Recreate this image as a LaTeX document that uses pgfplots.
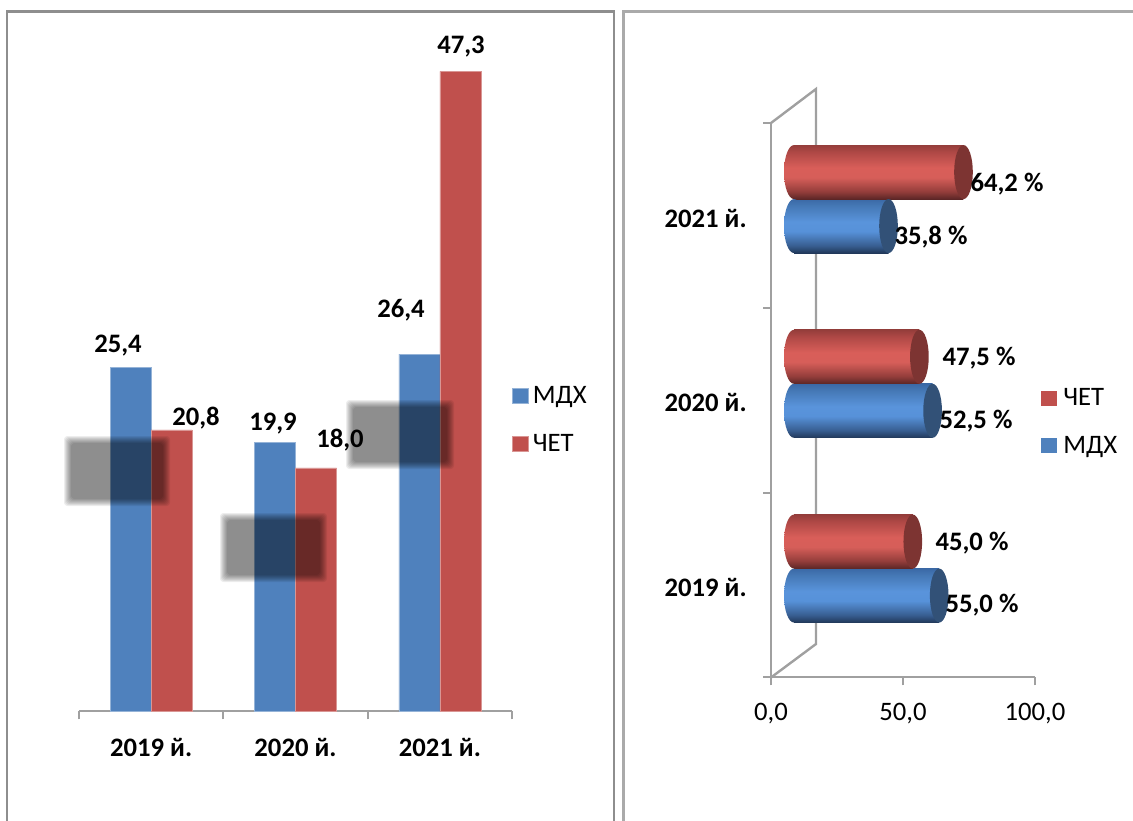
\documentclass[border=0pt]{standalone}
\usepackage{fontspec}
\setmainfont{Carlito}
\usepackage{pgfplots}
\usepackage{pgfplotstable}
\pgfplotsset{compat=1.18}

% 1 px of the reference = 0.75pt here
\definecolor{mdh}{HTML}{4F81BD}
\definecolor{chet}{HTML}{C0504D}
\definecolor{axgray}{HTML}{A0A0A0}
\definecolor{framegray}{HTML}{8E8E8E}

% a path covers the 25bp..75bp part of a shading
\pgfdeclareverticalshading{cylred}{100bp}{
  rgb(0bp)=(0.36,0.15,0.15); rgb(25bp)=(0.36,0.15,0.15); rgb(32bp)=(0.58,0.24,0.23);
  rgb(45bp)=(0.84,0.37,0.35); rgb(54bp)=(0.85,0.37,0.35); rgb(69bp)=(0.68,0.28,0.27);
  rgb(75bp)=(0.58,0.24,0.23); rgb(100bp)=(0.58,0.24,0.23)}
\pgfdeclareverticalshading{cylblue}{100bp}{
  rgb(0bp)=(0.13,0.22,0.35); rgb(25bp)=(0.13,0.22,0.35); rgb(32bp)=(0.22,0.37,0.57);
  rgb(45bp)=(0.34,0.57,0.85); rgb(54bp)=(0.35,0.58,0.86); rgb(69bp)=(0.27,0.47,0.71);
  rgb(75bp)=(0.23,0.41,0.65); rgb(100bp)=(0.23,0.41,0.65)}

% cylinder ends, shifted to the bar's half of the category
\pgfdeclareplotmark{redleft}{\path[shade,shading=cylred,draw=none] (0pt,20.25pt) ellipse (7.5pt and 20.25pt);}
\pgfdeclareplotmark{blueleft}{\path[shade,shading=cylblue,draw=none] (0pt,-20.25pt) ellipse (7.5pt and 20.25pt);}
\pgfdeclareplotmark{redright}{\pgfpathellipse{\pgfqpoint{0pt}{20.25pt}}{\pgfqpoint{7pt}{0pt}}{\pgfqpoint{0pt}{20.25pt}}\pgfusepath{fill}}
\pgfdeclareplotmark{blueright}{\pgfpathellipse{\pgfqpoint{0pt}{-20.25pt}}{\pgfqpoint{7pt}{0pt}}{\pgfqpoint{0pt}{20.25pt}}\pgfusepath{fill}}

\pgfplotstableread{
cat mdh  chet
0   25.4 20.8
1   19.9 18.0
2   26.4 47.3
}\absdata

\pgfplotsset{
  square legend/.style={
    legend image code/.code={\fill[##1] (0pt,-5.6pt) rectangle (11.5pt,5.6pt);\path (#1,0pt);}},
}

\newcommand{\chartfont}{\fontsize{20}{24}\selectfont}

% one cylinder: colour name, bar shift, end colour, value, category
\newcommand{\cylinder}[5]{%
  \addplot[only marks,mark=#1left,forget plot] coordinates {(0,#5)};
  \addplot[xbar,bar width=40.5pt,bar shift=#2pt,draw=none,shade,shading=cyl#1,forget plot]
    coordinates {(#4,#5)};
  \addplot[only marks,mark=#1right,mark options={fill=#3,draw=none},forget plot]
    coordinates {(#4,#5)};
}

\begin{document}
\begin{tikzpicture}
\useasboundingbox (0pt,0pt) rectangle (849.75pt,-615.75pt);

% frames of the two pasted charts
\begin{scope}[x=0.75pt,y=-0.75pt]
\draw[framegray,line width=2pt] (7,821) -- (7,11.5) -- (614,11.5) -- (614,821);
\draw[framegray!75,line width=1.8pt] (623.5,821) -- (623.5,11.5) -- (1133,11.5);
% back wall of the 3D chart
\draw[axgray,line width=1.8pt] (771,123) -- (816,89) -- (816,644) -- (771,677.5);
\end{scope}

% left chart
\begin{axis}[
  at={(59.25pt,-533.5pt)}, anchor=south west,
  scale only axis, width=324.75pt, height=507.375pt,
  xmin=-0.5, xmax=2.5, ymin=0, ymax=50,
  axis x line=bottom, axis y line=none,
  axis line style={-,axgray,line width=1.5pt},
  xtick={-0.5,0.5,1.5,2.5}, xticklabels={},
  tick style={axgray,line width=1.5pt},
  major tick length=6pt, tick align=outside,
  extra x ticks={0,1,2},
  extra x tick labels={2019 й.,2020 й.,2021 й.},
  extra x tick style={major tick length=0pt,
    xticklabel style={font=\chartfont\bfseries,text=black,yshift=-17pt}},
  clip=false,
  legend style={at={(1.0,0.431)},anchor=west,draw=none,fill=none,inner sep=0pt,
    font=\chartfont,row sep=17.5pt},
  legend cell align=left,
]
\addplot[ybar,bar width=30.75pt,bar shift=-15.4pt,fill=mdh,draw=mdh!60!white,line width=0.4pt,square legend=13pt]
  table[x=cat,y=mdh] {\absdata};
\addplot[ybar,bar width=30.75pt,bar shift=15.4pt,fill=chet,draw=chet!60!white,line width=0.4pt,square legend=13pt]
  table[x=cat,y=chet] {\absdata};
\legend{МДХ,ЧЕТ}
\end{axis}

% soft grey patches lying over the left chart
\begin{scope}[x=0.75pt,y=-0.75pt]
\foreach \xa/\ya/\xb/\yb in {66/438/168/504, 222/515/325/580, 348/402/452/467}{
  \foreach \i in {-2,-1,0,1,2,3,4,5}{
    \fill[black,fill opacity=0.069,rounded corners=2.5pt]
      (\xa+\i,\ya+\i) rectangle (\xb-\i,\yb-\i);
  }
}
\end{scope}

% right chart: axes in front
\begin{axis}[
  at={(578.25pt,-508.1pt)}, anchor=south west,
  scale only axis, width=198pt, height=415.9pt,
  xmin=0, xmax=100, ymin=0, ymax=3,
  axis lines=left,
  axis line style={-,axgray,line width=1.5pt},
  tick style={axgray,line width=1.5pt},
  major tick length=6pt, tick align=outside,
  xtick={0,50,100}, xticklabels={{0,0},{50,0},{100,0}},
  xticklabel style={font=\chartfont,text=black,yshift=-9.5pt},
  ytick={0,1,2,3}, yticklabels={},
  extra y ticks={0.5,1.5,2.5},
  extra y tick labels={2019 й.,2020 й.,2021 й.},
  extra y tick style={major tick length=0pt,
    yticklabel style={font=\chartfont\bfseries,text=black,xshift=-14.75pt,yshift=-2pt}},
  clip=false,
]
\end{axis}

% right chart: the cylinders
\begin{axis}[
  at={(595.5pt,-495.7pt)}, anchor=south west,
  scale only axis, width=198pt, height=415.7pt,
  xmin=0, xmax=100, ymin=-0.5, ymax=2.5,
  hide axis, clip=false,
  legend style={at={(0.936,0.431)},anchor=west,draw=none,fill=none,inner sep=0pt,
    font=\chartfont,row sep=17.5pt},
  legend cell align=left,
]
% МДХ
\cylinder{blue}{-20.25}{mdh!63!black}{55.0}{0}
\cylinder{blue}{-20.25}{mdh!63!black}{52.5}{1}
\cylinder{blue}{-20.25}{mdh!63!black}{35.8}{2}
% ЧЕТ
\cylinder{red}{20.25}{chet!65!black}{45.0}{0}
\cylinder{red}{20.25}{chet!65!black}{47.5}{1}
\cylinder{red}{20.25}{chet!65!black}{64.2}{2}
\addlegendimage{square legend=14.5pt,draw=none,fill=chet}
\addlegendimage{square legend=14.5pt,draw=none,fill=mdh}
\legend{ЧЕТ,МДХ}
\end{axis}

% value labels
\begin{scope}[x=0.75pt,y=-0.75pt,every node/.style={font=\chartfont\bfseries,inner sep=0pt}]
\node at (118,346) {25,4};
\node at (196,418) {20,8};
\node at (273,424) {19,9};
\node at (340,440) {18,0};
\node at (401,310) {26,4};
\node at (461,47) {47,3};
\node at (1007,184) {64,2 \%};
\node at (931,237) {35,8 \%};
\node at (979,358) {47,5 \%};
\node at (976,421) {52,5 \%};
\node at (972,543) {45,0 \%};
\node at (982,605) {55,0 \%};
\end{scope}
\end{tikzpicture}
\end{document}
